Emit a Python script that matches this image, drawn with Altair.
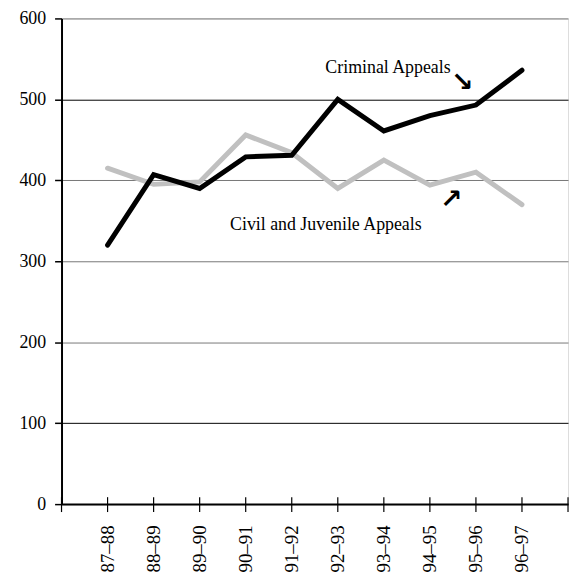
import altair as alt
import pandas as pd

years = ["87–88", "88–89", "89–90", "90–91", "91–92", "92–93", "93–94", "94–95", "95–96", "96–97"]
criminal = [320, 407, 390, 429, 431, 500, 461, 480, 493, 536]
civil = [415, 395, 398, 456, 434, 390, 425, 394, 410, 370]

# annotation labels (position in chart units: year index / count)
ann_text = ["Criminal Appeals", "Civil and Juvenile Appeals"]
ann_x = [5.73, 3.66]
ann_y = [533, 339]
arrow_text = ["↘", "↗"]
arrow_x = [8.71, 8.47]
arrow_y = [520, 376]

W, H = 511, 490
SERIF = "Liberation Serif"
idx = list(range(1, len(years) + 1))
df_crim = pd.DataFrame({"i": idx, "v": criminal})
df_civ = pd.DataFrame({"i": idx, "v": civil})
df_ticks = pd.DataFrame({"i": list(range(0, len(years) + 2))})
df_ann = pd.DataFrame({"i": ann_x, "v": ann_y, "t": ann_text})
df_arr = pd.DataFrame({"i": arrow_x, "v": arrow_y, "t": arrow_text})

label_arr = "[" + ",".join("'" + y + "'" for y in years) + "]"

xscale = alt.Scale(domain=[0, len(years) + 1], nice=False, zero=False)
yscale = alt.Scale(domain=[0, 600], nice=False)

x_axis = alt.Axis(
    values=idx, labelExpr=label_arr + "[datum.value - 1]", labelAngle=270,
    title=None, grid=False, ticks=False, labelPadding=21,
    domainColor="black", domainWidth=2, labelFont=SERIF,
    labelFontSize=19, labelColor="black",
)
y_axis = alt.Axis(
    values=[0, 100, 200, 300, 400, 500, 600], title=None, grid=True,
    gridColor={"condition": {"test": "datum.value == 500 || datum.value == 100", "value": "black"}, "value": "#777777"},
    gridWidth=1, tickSize=7, tickColor="black", tickWidth=1.5,
    labelPadding=9, domainColor="black", domainWidth=2,
    labelFont=SERIF, labelFontSize=18, labelColor="black",
)

civ_line = alt.Chart(df_civ).mark_line(color="#c0c0c0", strokeWidth=5, strokeCap="round").encode(
    x=alt.X("i:Q", scale=xscale, axis=x_axis),
    y=alt.Y("v:Q", scale=yscale, axis=y_axis),
)
crim_line = alt.Chart(df_crim).mark_line(color="black", strokeWidth=5, strokeCap="round").encode(
    x=alt.X("i:Q", scale=xscale),
    y=alt.Y("v:Q", scale=yscale),
)
ticks = alt.Chart(df_ticks).mark_rule(color="black", strokeWidth=1.2).encode(
    x=alt.X("i:Q", scale=xscale),
    y=alt.value(H - 7),
    y2=alt.value(H + 8),
)
ann = alt.Chart(df_ann).mark_text(
    font=SERIF, fontSize=18, align="left", baseline="alphabetic", color="black"
).encode(x=alt.X("i:Q", scale=xscale), y=alt.Y("v:Q", scale=yscale), text="t:N")
arr = alt.Chart(df_arr).mark_text(
    font="DejaVu Sans", fontSize=27, fontWeight="bold", align="center", baseline="middle", color="black"
).encode(x=alt.X("i:Q", scale=xscale), y=alt.Y("v:Q", scale=yscale), text="t:N")

chart = alt.layer(civ_line, crim_line, ticks, ann, arr).properties(
    width=W, height=H,
    autosize=alt.AutoSizeParams(type="none"),
    padding={"left": 54, "top": 8, "right": 2, "bottom": 70},
).configure_view(stroke="#808080", strokeWidth=2).configure(
    background="white", font=SERIF
).configure_axis(labelFont=SERIF)

chart.save("out.html", embed_options={"renderer": "svg", "actions": False})
